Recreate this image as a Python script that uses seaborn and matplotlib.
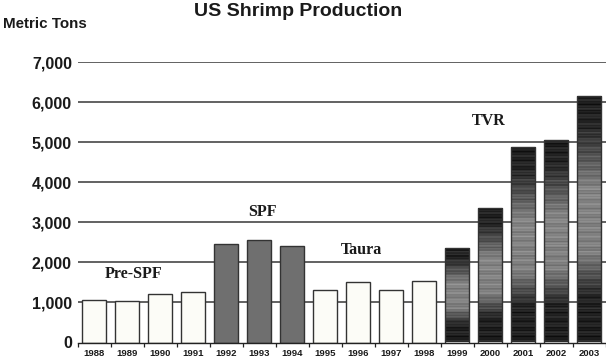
import numpy as np
import pandas as pd
import matplotlib
matplotlib.use("Agg")
import matplotlib.pyplot as plt
import seaborn as sns

# US shrimp production by year (metric tons)
years = ["1988", "1989", "1990", "1991", "1992", "1993", "1994", "1995",
         "1996", "1997", "1998", "1999", "2000", "2001", "2002", "2003"]
tons = [1060, 1035, 1205, 1255, 2460, 2555, 2405, 1305,
        1515, 1305, 1540, 2360, 3365, 4875, 5070, 6155]
era = ["Pre-SPF", "Pre-SPF", "Pre-SPF", "Pre-SPF", "SPF", "SPF", "SPF", "Taura",
       "Taura", "Taura", "Taura", "TVR", "TVR", "TVR", "TVR", "TVR"]

era_labels = ["Pre-SPF", "SPF", "Taura", "TVR"]
era_label_x = [1.2, 5.1, 8.1, 11.95]
era_label_y = [1710, 3260, 2300, 5530]

yticks = [0, 1000, 2000, 3000, 4000, 5000, 6000, 7000]

df = pd.DataFrame({"year": years, "tons": tons, "era": era})

sns.set_theme(style="white")
plt.rcParams["font.family"] = ["Liberation Sans", "DejaVu Sans"]

fig = plt.figure(figsize=(6.06, 3.62), dpi=100)
ax = fig.add_axes([77.5 / 606, 19.5 / 362, 528 / 606, (342.5 - 62.3) / 362])

sns.barplot(data=df, x="year", y="tons", order=years, color="white",
            width=0.73, edgecolor="#333333", linewidth=1.0, ax=ax,
            errorbar=None, zorder=3)

fill = {"Pre-SPF": "#fcfcf7", "SPF": "#6f6f6f", "Taura": "#fcfcf7"}


def shade_profile(n):
    # dark at the bottom and top, mid grey in the middle, with fine streaks
    t = np.linspace(0, 1, n)
    base = np.interp(t, [0.0, 0.18, 0.36, 0.62, 0.88, 1.0],
                     [0.12, 0.14, 0.50, 0.52, 0.15, 0.12])
    k = np.arange(n)
    streak = 0.05 * np.sin(k * 1.7) + 0.04 * np.sin(k * 0.63 + 1.0) + 0.03 * np.sin(k * 3.1)
    return np.clip(base + streak, 0, 1)


for patch, e in zip(ax.patches, era):
    if e in fill:
        patch.set_facecolor(fill[e])
    else:
        x0, y0 = patch.get_x(), patch.get_y()
        w, h = patch.get_width(), patch.get_height()
        n = max(int(h / 20), 40)
        prof = shade_profile(n)[:, None]
        img = np.repeat(prof, 4, axis=1)
        im = ax.imshow(img, cmap="gray", vmin=0, vmax=1, origin="lower",
                       extent=[x0, x0 + w, y0, y0 + h], aspect="auto",
                       interpolation="bilinear", zorder=3)
        im.set_clip_path(patch)
        patch.set_facecolor("none")
        patch.set_zorder(4)

ax.set_xlim(-0.5, len(years) - 0.5)
ax.set_ylim(0, 7000)
ax.set_yticks(yticks)
ax.set_yticklabels([f"{v:,}" for v in yticks], fontsize=11.5, fontweight="bold",
                   color="#1a1a1a")
ax.tick_params(axis="y", length=3, width=1.3, color="#555555", pad=1)

# horizontal rules at each thousand
for v in yticks[1:]:
    ax.axhline(v, color="#555555", linewidth=1.3, zorder=1)

ax.set_xticks(np.arange(len(years)))
ax.set_xticklabels(years, fontsize=6.8, fontweight="bold", color="#1a1a1a")
ax.set_xticks(np.arange(len(years) + 1) - 0.5, minor=True)
ax.tick_params(axis="x", which="major", length=0, pad=5)
ax.tick_params(axis="x", which="minor", length=3, width=0.9, color="#222222",
               direction="out", bottom=True)

for side in ["top", "right", "left"]:
    ax.spines[side].set_visible(False)
ax.spines["bottom"].set_color("#222222")
ax.spines["bottom"].set_linewidth(1.0)
ax.spines["bottom"].set_zorder(5)

ax.set_xlabel("")
ax.set_ylabel("")
ax.grid(False)

for lab, lx, ly in zip(era_labels, era_label_x, era_label_y):
    ax.text(lx, ly, lab, ha="center", va="center", fontsize=11.5,
            fontweight="bold", family=["Liberation Serif", "DejaVu Serif"],
            color="#1a1a1a", zorder=6)

fig.text(298.5 / 606, 1 - 11 / 362, "US Shrimp Production", ha="center",
         va="center", fontsize=14, fontweight="bold", color="#1a1a1a")
fig.text(3 / 606, 1 - 23.5 / 362, "Metric Tons", ha="left", va="center",
         fontsize=10.9, fontweight="bold", color="#1a1a1a")

fig.savefig("out.png", dpi=100, facecolor="white")
